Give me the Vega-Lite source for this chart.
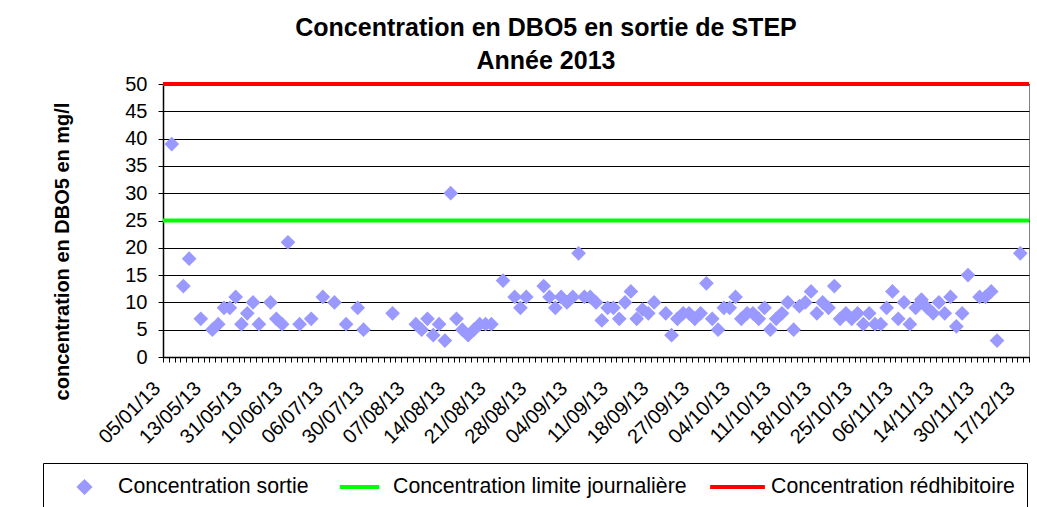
{
  "$schema": "https://vega.github.io/schema/vega-lite/v6.json",
  "width": 866,
  "height": 273,
  "autosize": {"type": "none"},
  "padding": {"left": 163, "top": 84, "right": 8, "bottom": 150},
  "background": "white",
  "config": {
    "font": "Liberation Sans",
    "view": {"stroke": "#808080", "strokeWidth": 1},
    "legend": {
      "orient": "none",
      "legendX": -120,
      "legendY": 379,
      "direction": "horizontal",
      "columns": 3,
      "labelFontSize": 21.3,
      "labelFont": "Liberation Sans",
      "labelColor": "#000000",
      "labelOffset": 4,
      "labelLimit": 400,
      "symbolStrokeWidth": 4,
      "symbolOpacity": 1,
      "clipHeight": 24,
      "columnPadding": 21,
      "padding": 12,
      "strokeColor": "#000000",
      "fillColor": "#FFFFFF",
      "cornerRadius": 0
    }
  },
  "title": {
    "text": ["Concentration en DBO5 en sortie de STEP", "Année 2013"],
    "fontSize": 25,
    "fontWeight": "bold",
    "font": "Liberation Sans",
    "color": "#000000",
    "anchor": "middle",
    "dx": -50,
    "offset": 0,
    "lineHeight": 33
  },
  "data": {"values": [
    {"i":1,"c":39},{"i":3,"c":13},{"i":4,"c":18},{"i":6,"c":7},{"i":8,"c":5},{"i":9,"c":6},{"i":10,"c":9},{"i":11,"c":9},{"i":12,"c":11},{"i":13,"c":6},
    {"i":14,"c":8},{"i":15,"c":10},{"i":16,"c":6},{"i":18,"c":10},{"i":19,"c":7},{"i":20,"c":6},{"i":21,"c":21},{"i":23,"c":6},{"i":25,"c":7},{"i":27,"c":11},
    {"i":29,"c":10},{"i":31,"c":6},{"i":33,"c":9},{"i":34,"c":5},{"i":39,"c":8},{"i":43,"c":6},{"i":44,"c":5},{"i":45,"c":7},{"i":46,"c":4},{"i":47,"c":6},
    {"i":48,"c":3},{"i":49,"c":30},{"i":50,"c":7},{"i":51,"c":5},{"i":52,"c":4},{"i":53,"c":5},{"i":54,"c":6},{"i":55,"c":6},{"i":56,"c":6},{"i":58,"c":14},
    {"i":60,"c":11},{"i":61,"c":9},{"i":62,"c":11},{"i":65,"c":13},{"i":66,"c":11},{"i":67,"c":9},{"i":68,"c":11},{"i":69,"c":10},{"i":70,"c":11},{"i":71,"c":19},
    {"i":72,"c":11},{"i":73,"c":11},{"i":74,"c":10},{"i":75,"c":6.7},{"i":76,"c":9},{"i":77,"c":9},{"i":78,"c":7},{"i":79,"c":10},{"i":80,"c":12},{"i":81,"c":7},
    {"i":82,"c":8.7},{"i":83,"c":8},{"i":84,"c":10},{"i":86,"c":8},{"i":87,"c":4},{"i":88,"c":7},{"i":89,"c":8},{"i":90,"c":8},{"i":91,"c":7},{"i":92,"c":8},
    {"i":93,"c":13.5},{"i":94,"c":7},{"i":95,"c":5},{"i":96,"c":9},{"i":97,"c":9},{"i":98,"c":11},{"i":99,"c":7},{"i":100,"c":8},{"i":101,"c":8},{"i":102,"c":7},
    {"i":103,"c":9},{"i":104,"c":5},{"i":105,"c":7},{"i":106,"c":8},{"i":107,"c":10},{"i":108,"c":5},{"i":109,"c":9.3},{"i":110,"c":10},{"i":111,"c":12},{"i":112,"c":8},
    {"i":113,"c":10},{"i":114,"c":9},{"i":115,"c":13},{"i":116,"c":7},{"i":117,"c":8},{"i":118,"c":7},{"i":119,"c":8},{"i":120,"c":6},{"i":121,"c":8},{"i":122,"c":6},
    {"i":123,"c":6},{"i":124,"c":9},{"i":125,"c":12},{"i":126,"c":7},{"i":127,"c":10},{"i":128,"c":6},{"i":129,"c":9},{"i":130,"c":10.5},{"i":131,"c":9},{"i":132,"c":8},
    {"i":133,"c":10},{"i":134,"c":8},{"i":135,"c":11},{"i":136,"c":5.6},{"i":137,"c":8},{"i":138,"c":15},{"i":140,"c":11},{"i":141,"c":11},{"i":142,"c":12},{"i":143,"c":3},
    {"i":147,"c":19}
  ]},
  "encoding": {
    "y": {
      "field": "c", "type": "quantitative",
      "scale": {"domain": [0, 50], "nice": false, "zero": true},
      "axis": {
        "values": [0,5,10,15,20,25,30,35,40,45,50],
        "title": "concentration en DBO5 en mg/l",
        "titleFont": "Liberation Sans",
        "titleFontSize": 20,
        "titleFontWeight": "bold",
        "titleColor": "#000000",
        "titleAngle": -90,
        "titleAlign": "center",
        "titleBaseline": "middle",
        "titleX": -101,
        "titleY": 167,
        "labelFontSize": 20,
        "labelFont": "Liberation Sans",
        "labelColor": "#000000",
        "labelPadding": 11,
        "labelOverlap": false,
        "tickSize": 5,
        "tickColor": "#000000",
        "domainColor": "#000000",
        "domainWidth": 1.5,
        "grid": true,
        "gridColor": "#000000",
        "gridWidth": 1
      }
    }
  },
  "layer": [
    {
      "mark": {"type": "point", "filled": true, "strokeWidth": 3, "opacity": 1},
      "encoding": {
        "x": {
          "field": "i", "type": "quantitative",
          "scale": {"domain": [-0.5, 148.5], "nice": false, "zero": false},
          "axis": {
            "title": null, "grid": false,
            "values": [-0.5,0.5,1.5,2.5,3.5,4.5,5.5,6.5,7.5,8.5,9.5,10.5,11.5,12.5,13.5,14.5,15.5,16.5,17.5,18.5,19.5,20.5,21.5,22.5,23.5,24.5,25.5,26.5,27.5,28.5,29.5,30.5,31.5,32.5,33.5,34.5,35.5,36.5,37.5,38.5,39.5,40.5,41.5,42.5,43.5,44.5,45.5,46.5,47.5,48.5,49.5,50.5,51.5,52.5,53.5,54.5,55.5,56.5,57.5,58.5,59.5,60.5,61.5,62.5,63.5,64.5,65.5,66.5,67.5,68.5,69.5,70.5,71.5,72.5,73.5,74.5,75.5,76.5,77.5,78.5,79.5,80.5,81.5,82.5,83.5,84.5,85.5,86.5,87.5,88.5,89.5,90.5,91.5,92.5,93.5,94.5,95.5,96.5,97.5,98.5,99.5,100.5,101.5,102.5,103.5,104.5,105.5,106.5,107.5,108.5,109.5,110.5,111.5,112.5,113.5,114.5,115.5,116.5,117.5,118.5,119.5,120.5,121.5,122.5,123.5,124.5,125.5,126.5,127.5,128.5,129.5,130.5,131.5,132.5,133.5,134.5,135.5,136.5,137.5,138.5,139.5,140.5,141.5,142.5,143.5,144.5,145.5,146.5,147.5,148.5],
            "labelExpr": "(datum.value + 0.5) % 7 == 0 ? ['05/01/13','13/05/13','31/05/13','10/06/13','06/07/13','30/07/13','07/08/13','14/08/13','21/08/13','28/08/13','04/09/13','11/09/13','18/09/13','27/09/13','04/10/13','11/10/13','18/10/13','25/10/13','06/11/13','14/11/13','30/11/13','17/12/13'][(datum.value + 0.5) / 7] : ''",
            "labelOffset": -6,
            "labelAngle": -45,
            "labelAlign": "right",
            "labelBaseline": "middle",
            "labelFontSize": 20,
            "labelFont": "Liberation Sans",
            "labelColor": "#000000",
            "labelPadding": 23,
            "labelOverlap": false,
            "labelBound": false,
            "labelFlush": false,
            "tickSize": 5,
            "tickColor": "#000000",
            "tickWidth": 1,
            "domainColor": "#000000",
            "domainWidth": 1.5
          }
        },
        "color": {
          "datum": "Concentration sortie",
          "type": "nominal",
          "scale": {
            "domain": ["Concentration sortie", "Concentration limite journalière", "Concentration rédhibitoire"],
            "range": ["#9999FF", "#00FF00", "#FF0000"]
          },
          "legend": {"title": null}
        },
        "stroke": {
          "datum": "Concentration sortie",
          "type": "nominal",
          "scale": {
            "domain": ["Concentration sortie", "Concentration limite journalière", "Concentration rédhibitoire"],
            "range": ["#9999FF", "#00FF00", "#FF0000"]
          },
          "legend": {"title": null}
        },
        "shape": {
          "datum": "Concentration sortie",
          "type": "nominal",
          "scale": {
            "domain": ["Concentration sortie", "Concentration limite journalière", "Concentration rédhibitoire"],
            "range": ["diamond", "stroke", "stroke"]
          },
          "legend": {"title": null}
        },
        "size": {
          "datum": "Concentration sortie",
          "type": "nominal",
          "scale": {
            "domain": ["Concentration sortie", "Concentration limite journalière", "Concentration rédhibitoire"],
            "range": [110, 3000, 3000]
          },
          "legend": {"title": null}
        }
      }
    },
    {
      "data": {"values": [{"c": 25}]},
      "mark": {"type": "rule", "strokeWidth": 4},
      "encoding": {
        "color": {"datum": "Concentration limite journalière", "type": "nominal", "legend": {"title": null}}
      }
    },
    {
      "data": {"values": [{"c": 50}]},
      "mark": {"type": "rule", "strokeWidth": 4},
      "encoding": {
        "color": {"datum": "Concentration rédhibitoire", "type": "nominal", "legend": {"title": null}}
      }
    }
  ]
}
